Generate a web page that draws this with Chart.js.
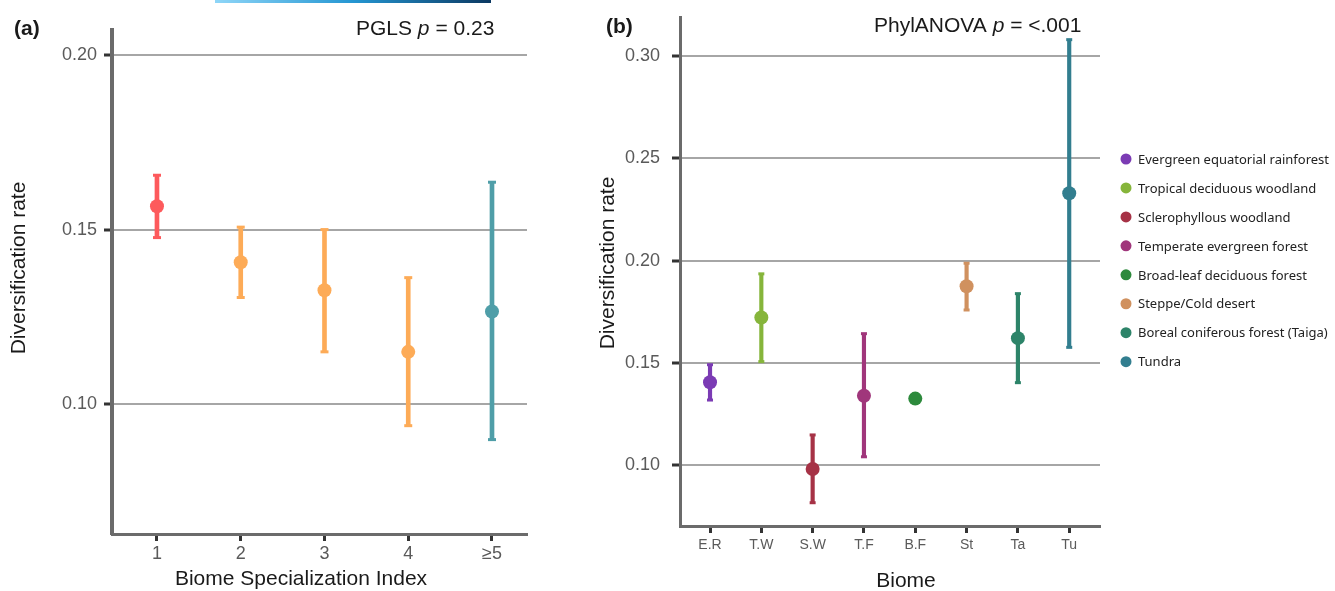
<!DOCTYPE html>
<html>
<head>
<meta charset="utf-8">
<title>Diversification rate</title>
<script src="https://cdn.jsdelivr.net/npm/chart.js@4.4.1/dist/chart.umd.min.js"></script>
<style>
  html, body { margin: 0; padding: 0; background: #fff; }
  #wrap { position: relative; width: 1335px; height: 591px; overflow: hidden; }
  #chartA { position: absolute; left: 0; top: 0; }
  #chartB { position: absolute; left: 560px; top: 0; }
  .topbar {
    position: absolute; left: 215px; top: 0; width: 276px; height: 3px;
    background: linear-gradient(to right, #8fd6f8, #2496d2 50%, #0b3861);
  }
</style>
</head>
<body>
<div id="wrap">
  <canvas id="chartA" width="560" height="591"></canvas>
  <canvas id="chartB" width="775" height="591"></canvas>
  <div class="topbar"></div>
</div>
<script>
// (a) Biome Specialization Index
const bsiLabels = ["1", "2", "3", "4", "≥5"];
const bsiMean = [0.1567, 0.1406, 0.1326, 0.1149, 0.1265];
const bsiLow = [0.1477, 0.1305, 0.1149, 0.0937, 0.0897];
const bsiHigh = [0.1656, 0.1507, 0.1500, 0.1362, 0.1636];
const bsiColors = ["#fd5a5c", "#fdab57", "#fdab57", "#fdab57", "#4f9ea8"];

// (b) Biome
const biomeCodes = ["E.R", "T.W", "S.W", "T.F", "B.F", "St", "Ta", "Tu"];
const biomeNames = [
    "Evergreen equatorial rainforest",
    "Tropical deciduous woodland",
    "Sclerophyllous woodland",
    "Temperate evergreen forest",
    "Broad-leaf deciduous forest",
    "Steppe/Cold desert",
    "Boreal coniferous forest (Taiga)",
    "Tundra"
];
const biomeMean = [0.1404, 0.1721, 0.0979, 0.1338, 0.1324, 0.1874, 0.1620, 0.2330];
const biomeLow = [0.1317, 0.1505, 0.0814, 0.1039, null, 0.1758, 0.1402, 0.1575];
const biomeHigh = [0.1490, 0.1935, 0.1146, 0.1642, null, 0.1987, 0.1838, 0.3082];
const biomeColors = ["#7b3bb4", "#86b53b", "#a63246", "#a0367b", "#2d8a3c", "#d0915f", "#2d8469", "#327e8f"];

const FONT = "'Liberation Sans', Arial, sans-serif";

// points + caps + error bar for every category
function errorDatasets(mean, low, high, colors, capRadius, barWidth) {
    const pts = arr => arr.map((v, i) => ({ x: i + 1, y: v }));
    const bars = [];
    const barColors = [];
    low.forEach((v, i) => {
        if (v !== null) {
            bars.push({ x: i + 1, y: [v, high[i]] });
            barColors.push(colors[i]);
        }
    });
    return [
        { type: "line", data: pts(mean), showLine: false, pointRadius: 7, pointHoverRadius: 7,
          pointBackgroundColor: colors, pointBorderWidth: 0, order: 0 },
        { type: "line", data: pts(high), showLine: false, pointStyle: "line", pointRadius: capRadius,
          pointHoverRadius: capRadius, pointBorderColor: colors, pointBorderWidth: 3, order: 1 },
        { type: "line", data: pts(low), showLine: false, pointStyle: "line", pointRadius: capRadius,
          pointHoverRadius: capRadius, pointBorderColor: colors, pointBorderWidth: 3, order: 1 },
        { type: "bar", data: bars, backgroundColor: barColors, barThickness: barWidth,
          borderWidth: 0, borderSkipped: false, order: 2 }
    ];
}

// panel letter, test result, axis titles and legend
const panelText = {
    id: "panelText",
    afterDraw(chart, args, opts) {
        const ctx = chart.ctx;
        ctx.save();
        ctx.fillStyle = "#1a1a1a";
        ctx.textAlign = "left";
        ctx.textBaseline = "alphabetic";
        ctx.font = "bold 21px " + FONT;
        ctx.fillText(opts.letter, opts.letterX, opts.letterY);

        let x = opts.testX;
        opts.test.forEach(part => {
            ctx.font = (part.italic ? "italic " : "") + "21px " + FONT;
            ctx.fillText(part.text, x, opts.testY);
            x += ctx.measureText(part.text).width;
        });

        ctx.font = "21px " + FONT;
        ctx.textAlign = "center";
        ctx.textBaseline = "middle";
        ctx.fillText(opts.xTitle, opts.xTitleX, opts.xTitleY);
        ctx.save();
        ctx.translate(opts.yTitleX, opts.yTitleY);
        ctx.rotate(-Math.PI / 2);
        ctx.fillText(opts.yTitle, 0, 0);
        ctx.restore();

        if (opts.legend) {
            const lg = opts.legend;
            ctx.textAlign = "left";
            ctx.font = "13px 'Noto Sans', sans-serif";
            lg.names.forEach((name, i) => {
                const y = lg.y + i * lg.step;
                ctx.fillStyle = lg.colors[i];
                ctx.beginPath();
                ctx.arc(lg.x, y, 5.5, 0, Math.PI * 2);
                ctx.fill();
                ctx.fillStyle = "#222";
                ctx.fillText(name, lg.x + 12, y + 1);
            });
        }
        ctx.restore();
    }
};

function makeOptions(cfg) {
    return {
        responsive: false,
        animation: false,
        events: [],
        layout: { padding: cfg.padding },
        plugins: { legend: { display: false }, tooltip: { enabled: false }, panelText: cfg.text },
        scales: {
            x: {
                type: "linear", min: cfg.xMin, max: cfg.xMax, offset: false,
                afterFit: s => { s.height = cfg.xHeight; },
                ticks: {
                    stepSize: 1, includeBounds: false, autoSkip: false, maxRotation: 0,
                    callback: v => cfg.labels[Math.round(v) - 1],
                    color: "#5a5a5a", font: { family: FONT, size: cfg.xFont }, padding: cfg.xPad
                },
                grid: { offset: false, drawOnChartArea: false, tickLength: 7, tickWidth: 3, tickColor: "#333" },
                border: { color: "#6b6b6b", width: 3 }
            },
            y: {
                type: "linear", min: cfg.yMin, max: cfg.yMax, beginAtZero: false,
                afterFit: s => {
                    s.width = cfg.yWidth;
                    // keep the plot top where the layout padding says
                    s.paddingTop = 0;
                    s.paddingBottom = 0;
                },
                ticks: {
                    stepSize: 0.05, includeBounds: false,
                    callback: v => v.toFixed(2),
                    color: "#5a5a5a", font: { family: FONT, size: 18 }, padding: cfg.yPad
                },
                grid: { color: "#a6a6a6", lineWidth: 2, tickLength: 8, tickWidth: 3, tickColor: "#333" },
                border: { color: "#6b6b6b", width: cfg.yBorder }
            }
        }
    };
}

new Chart(document.getElementById("chartA"), {
    type: "bar",
    data: { datasets: errorDatasets(bsiMean, bsiLow, bsiHigh, bsiColors, 4, 4) },
    options: makeOptions({
        padding: { left: 0, top: 30, right: 33, bottom: 0 },
        xMin: 0.463, xMax: 5.418, xHeight: 57, xFont: 18, xPad: 2, labels: bsiLabels,
        yMin: 0.0626, yMax: 0.2073, yWidth: 112, yPad: 7, yBorder: 4,
        text: {
            letter: "(a)", letterX: 14, letterY: 35,
            test: [{ text: "PGLS " }, { text: "p", italic: true }, { text: " = 0.23" }],
            testX: 356, testY: 35,
            xTitle: "Biome Specialization Index", xTitleX: 301, xTitleY: 579,
            yTitle: "Diversification rate", yTitleX: 19, yTitleY: 268
        }
    }),
    plugins: [panelText]
});

new Chart(document.getElementById("chartB"), {
    type: "bar",
    data: { datasets: errorDatasets(biomeMean, biomeLow, biomeHigh, biomeColors, 3, 3.5) },
    options: makeOptions({
        padding: { left: 0, top: 17, right: 235, bottom: 0 },
        xMin: 0.415, xMax: 8.6, xHeight: 65, xFont: 14, xPad: 4, labels: biomeCodes,
        yMin: 0.070, yMax: 0.3193, yWidth: 120, yPad: 12, yBorder: 3,
        text: {
            letter: "(b)", letterX: 46, letterY: 33,
            test: [{ text: "PhylANOVA " }, { text: "p", italic: true }, { text: " = <.001" }],
            testX: 314, testY: 32,
            xTitle: "Biome", xTitleX: 346, xTitleY: 581,
            yTitle: "Diversification rate", yTitleX: 48, yTitleY: 263,
            legend: { names: biomeNames, colors: biomeColors, x: 566, y: 159, step: 28.95 }
        }
    }),
    plugins: [panelText]
});
</script>
</body>
</html>
